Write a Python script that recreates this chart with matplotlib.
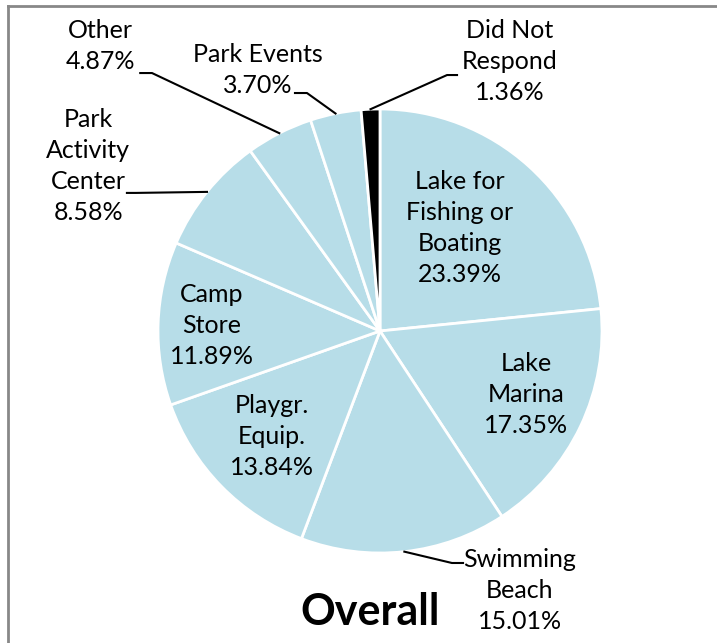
import numpy as np
import matplotlib.pyplot as plt
from matplotlib.lines import Line2D

plt.rcParams['font.family'] = ['Lato', 'DejaVu Sans']

# slice data (clockwise from top)
labels = ["Lake for\nFishing or\nBoating", "Lake\nMarina", "Swimming\nBeach",
          "Playgr.\nEquip.", "Camp\nStore", "Park\nActivity\nCenter",
          "Other", "Park Events", "Did Not\nRespond"]
values = [23.39, 17.35, 15.01, 13.84, 11.89, 8.58, 4.87, 3.70, 1.36]
colors = ["#b7dde8"] * 8 + ["black"]

fig = plt.figure(figsize=(7.17, 6.43), dpi=100)
# pie axes, centre ~ (380, 331) px, radius ~ 222 px
ax = fig.add_axes([(380 - 222) / 717, (643 - 331 - 222) / 643, 444 / 717, 444 / 643])
wedges, _ = ax.pie(values, colors=colors, startangle=90, counterclock=False,
                   radius=1, wedgeprops=dict(edgecolor="white", linewidth=2))
ax.set_xlim(-1, 1)
ax.set_ylim(-1, 1)
ax.set_aspect("equal")
ax.axis("off")

fs = 18
ls = 1.42

# labels inside the pie
inside = {0: (0.36, 0.464), 1: (0.658, -0.288), 3: (-0.486, -0.477), 4: (-0.757, 0.023)}
for i, (x, y) in inside.items():
    ax.text(x, y, f"{labels[i]}\n{values[i]:.2f}%", ha="center", va="center",
            fontsize=fs, linespacing=ls)

# labels outside with leader lines: text pos, elbow start (near text), elbow end
outside = {
    2: ((0.63, -1.167), (0.374, -1.045), (0.324, -1.045)),
    5: ((-1.315, 0.745), (-1.14, 0.622), (-1.10, 0.622)),
    6: ((-1.26, 1.284), (-1.08, 1.162), (-1.027, 1.162)),
    7: ((-0.55, 1.176), (-0.383, 1.072), (-0.329, 1.072)),
    8: ((0.586, 1.215), (0.347, 1.153), (0.302, 1.153)),
}
for i, (tpos, p1, p2) in outside.items():
    ax.text(tpos[0], tpos[1], f"{labels[i]}\n{values[i]:.2f}%", ha="center", va="center",
            fontsize=fs, linespacing=ls)
    w = wedges[i]
    ang = np.deg2rad((w.theta1 + w.theta2) / 2)
    edge = (np.cos(ang), np.sin(ang))
    ax.add_line(Line2D([p1[0], p2[0], edge[0]], [p1[1], p2[1], edge[1]],
                       color="black", linewidth=1.5, clip_on=False))

fig.text(0.516, 0.048, "Overall", ha="center", va="center", fontsize=31,
         fontweight="bold")

# frame lines (top and left)
fig.add_artist(Line2D([8 / 717, 1], [1 - 6 / 643, 1 - 6 / 643], color="#888888",
                      linewidth=2, transform=fig.transFigure))
fig.add_artist(Line2D([8 / 717, 8 / 717], [0, 1 - 6 / 643], color="#888888",
                      linewidth=2, transform=fig.transFigure))

plt.savefig("out.png", dpi=100)
